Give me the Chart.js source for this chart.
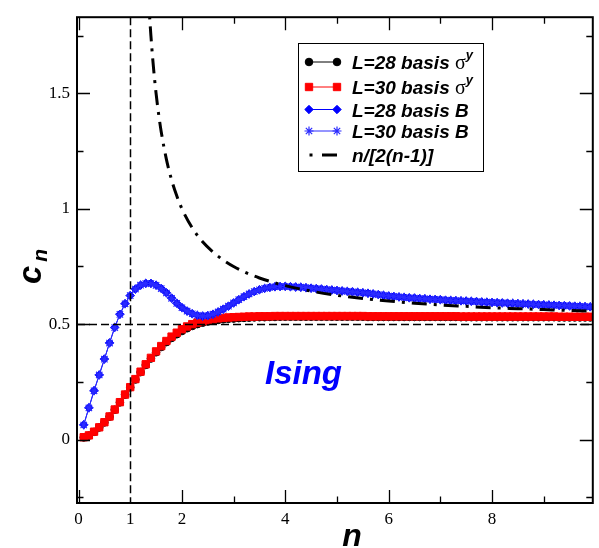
<!DOCTYPE html>
<html><head><meta charset="utf-8">
<script src="https://cdn.jsdelivr.net/npm/chart.js@4.4.0/dist/chart.umd.min.js"></script>
<style>html,body{margin:0;padding:0;background:#fff;}#wrap{width:599px;height:548px;}</style>
</head><body><div id="wrap"><canvas id="c" width="599" height="548"></canvas></div>
<script>
// ---------- data ----------
const nGrid = [0.1,0.2,0.3,0.4,0.5,0.6,0.7,0.8,0.9,1.0,
 1.1,1.2,1.3,1.4,1.5,1.6,1.7,1.8,1.9,2.0,
 2.1,2.2,2.3,2.4,2.5,2.6,2.7,2.8,2.9,3.0,
 3.1,3.2,3.3,3.4,3.5,3.6,3.7,3.8,3.9,4.0,
 4.1,4.2,4.3,4.4,4.5,4.6,4.7,4.8,4.9,5.0,
 5.1,5.2,5.3,5.4,5.5,5.6,5.7,5.8,5.9,6.0,
 6.1,6.2,6.3,6.4,6.5,6.6,6.7,6.8,6.9,7.0,
 7.1,7.2,7.3,7.4,7.5,7.6,7.7,7.8,7.9,8.0,
 8.1,8.2,8.3,8.4,8.5,8.6,8.7,8.8,8.9,9.0,
 9.1,9.2,9.3,9.4,9.5,9.6,9.7,9.8,9.9];

const cnL28SigmaY = [0.009,0.017,0.033,0.052,0.074,0.099,0.129,0.161,0.194,0.226,
 0.260,0.292,0.323,0.351,0.378,0.401,0.422,0.440,0.456,0.470,
 0.482,0.492,0.500,0.506,0.511,0.515,0.518,0.521,0.523,0.524,
 0.526,0.527,0.528,0.529,0.530,0.530,0.531,0.531,0.532,0.532,
 0.532,0.532,0.532,0.532,0.532,0.532,0.532,0.532,0.532,0.532,
 0.532,0.532,0.532,0.532,0.532,0.531,0.531,0.531,0.531,0.531,
 0.531,0.531,0.531,0.531,0.531,0.531,0.531,0.531,0.531,0.531,
 0.531,0.531,0.531,0.530,0.530,0.530,0.530,0.530,0.530,0.530,
 0.530,0.530,0.530,0.530,0.530,0.530,0.530,0.530,0.530,0.530,
 0.530,0.530,0.529,0.529,0.529,0.529,0.529,0.529,0.529];

const cnL30SigmaY = [0.010,0.018,0.034,0.053,0.075,0.100,0.130,0.162,0.195,0.227,
 0.262,0.294,0.326,0.354,0.382,0.405,0.427,0.446,0.463,0.478,
 0.490,0.500,0.507,0.513,0.518,0.522,0.525,0.527,0.529,0.530,
 0.531,0.532,0.533,0.533,0.534,0.534,0.534,0.535,0.535,0.535,
 0.535,0.535,0.535,0.535,0.535,0.535,0.535,0.535,0.535,0.535,
 0.535,0.535,0.535,0.535,0.535,0.534,0.534,0.534,0.534,0.534,
 0.534,0.534,0.534,0.534,0.534,0.534,0.534,0.534,0.534,0.534,
 0.534,0.534,0.534,0.533,0.533,0.533,0.533,0.533,0.533,0.533,
 0.533,0.533,0.533,0.533,0.533,0.533,0.533,0.533,0.533,0.533,
 0.533,0.533,0.532,0.532,0.532,0.532,0.532,0.532,0.532];

const cnL28B = [0.064,0.138,0.212,0.280,0.349,0.419,0.486,0.543,0.589,0.624,
 0.652,0.669,0.677,0.677,0.669,0.655,0.636,0.613,0.591,0.572,
 0.557,0.545,0.538,0.535,0.537,0.543,0.553,0.565,0.578,0.592,
 0.606,0.619,0.631,0.641,0.649,0.655,0.659,0.662,0.663,0.664,
 0.662,0.661,0.660,0.658,0.656,0.654,0.652,0.650,0.648,0.646,
 0.644,0.642,0.640,0.638,0.636,0.634,0.631,0.628,0.625,0.622,
 0.620,0.618,0.616,0.614,0.613,0.611,0.610,0.608,0.607,0.606,
 0.604,0.603,0.602,0.601,0.600,0.599,0.598,0.596,0.595,0.594,
 0.593,0.592,0.591,0.590,0.589,0.588,0.587,0.586,0.585,0.584,
 0.583,0.582,0.581,0.580,0.579,0.578,0.577,0.576,0.575];

const cnL30B = [0.063,0.137,0.211,0.280,0.348,0.418,0.485,0.542,0.588,0.624,
 0.652,0.669,0.676,0.676,0.668,0.654,0.635,0.612,0.590,0.571,
 0.556,0.545,0.538,0.535,0.537,0.543,0.553,0.565,0.578,0.592,
 0.606,0.619,0.631,0.641,0.649,0.655,0.659,0.662,0.663,0.663,
 0.662,0.661,0.660,0.658,0.656,0.654,0.652,0.650,0.648,0.646,
 0.644,0.642,0.640,0.638,0.636,0.634,0.631,0.628,0.625,0.622,
 0.620,0.618,0.616,0.614,0.613,0.611,0.610,0.608,0.607,0.606,
 0.604,0.603,0.602,0.601,0.600,0.599,0.598,0.596,0.595,0.594,
 0.593,0.592,0.591,0.590,0.589,0.588,0.587,0.586,0.585,0.584,
 0.583,0.582,0.581,0.580,0.579,0.578,0.577,0.576,0.575];

const nAsymptote = [1.35,1.37,1.4,1.45,1.5,1.55,1.6,1.7,1.8,1.9,2.0,2.2,2.4,2.6,2.8,3.0,
 3.25,3.5,3.75,4.0,4.5,5.0,5.5,6.0,6.5,7.0,7.5,8.0,8.5,9.0,9.5,10.0];
const cnAsymptote = [1.929,1.851,1.750,1.611,1.500,1.409,1.333,1.214,1.125,1.056,1.000,0.917,0.857,0.813,0.778,0.750,
 0.722,0.700,0.682,0.667,0.643,0.625,0.611,0.600,0.591,0.583,0.577,0.571,0.567,0.563,0.559,0.556];

const refLineN = 1;      // vertical dashed line n = 1
const refLineC = 0.5;    // horizontal dashed line c_n = 1/2

const xTickValues = [0,1,2,3,4,5,6,7,8,9];
const xTickLabels = ['0','1','2','','4','','6','','8',''];
const xMajorTicks = [0,2,4,6,8];
const yTickValues = [-0.25,0,0.25,0.5,0.75,1,1.25,1.5,1.75];
const yTickLabels = ['','0','','0.5','','1','','1.5',''];
const yMajorTicks = [0,0.5,1,1.5];

const legendLabels = ['L=28 basis ','L=30 basis ','L=28 basis B','L=30 basis B','n/[2(n-1)]'];
const legendSymbols = ['σ','σ','','',''];
const legendSupers = ['y','y','','',''];
const annotationText = 'Ising';
const xTitle = 'n';
const yTitleMain = 'c';
const yTitleSub = 'n';

const X_MIN = -0.03, X_MAX = 9.95, Y_MIN = -0.275, Y_MAX = 1.83;

// ---------- build ----------
const pts = (xs, ys) => xs.map((x, i) => ({x: x, y: ys[i]}));

const datasets = [
  {label: legendLabels[0], data: pts(nGrid, cnL28SigmaY), borderColor:'#000', backgroundColor:'#000',
   borderWidth:1, pointStyle:'circle', pointRadius:3.8, pointBorderWidth:1, order:5},
  {label: legendLabels[1], data: pts(nGrid, cnL30SigmaY), borderColor:'#ff0000', backgroundColor:'#ff0000',
   borderWidth:1, pointStyle:'rect', pointRadius:5.2, pointBorderWidth:1, order:4},
  {label: legendLabels[2], data: pts(nGrid, cnL28B), borderColor:'#0000ff', backgroundColor:'#0000ff',
   borderWidth:1, pointStyle:'rectRot', pointRadius:4.2, pointBorderWidth:1, order:3},
  {label: legendLabels[3], data: pts(nGrid, cnL30B), borderColor:'#2b2bff', backgroundColor:'#2b2bff',
   borderWidth:1, pointStyle:'star', pointRadius:4.5, pointBorderWidth:1.2, order:2},
  {label: legendLabels[4], data: pts(nAsymptote, cnAsymptote), borderColor:'#000', backgroundColor:'#000',
   borderWidth:3, borderDash:[15,7,3,7], pointRadius:0, cubicInterpolationMode:'monotone', order:1}
];

function lookupLabel(values, labels) {
  return function(v) {
    const i = values.findIndex(t => Math.abs(t - v) < 1e-9);
    return i >= 0 ? labels[i] : '';
  };
}

const decor = {
  id: 'decor',
  afterDatasetsDraw(chart) {
    const ctx = chart.ctx, a = chart.chartArea;
    const xs = chart.scales.x, ys = chart.scales.y;
    ctx.save();
    ctx.beginPath(); ctx.rect(a.left, a.top, a.right - a.left, a.bottom - a.top); ctx.clip();
    ctx.strokeStyle = '#000'; ctx.lineWidth = 1.5; ctx.setLineDash([8,4]);
    const px = Math.round(xs.getPixelForValue(refLineN)) + 0.5;
    ctx.beginPath(); ctx.moveTo(px, a.top); ctx.lineTo(px, a.bottom); ctx.stroke();
    const py = Math.round(ys.getPixelForValue(refLineC)) + 0.5;
    ctx.beginPath(); ctx.moveTo(a.left, py); ctx.lineTo(a.right, py); ctx.stroke();
    ctx.restore();
  },
  afterDraw(chart) {
    const ctx = chart.ctx, a = chart.chartArea;
    const xs = chart.scales.x, ys = chart.scales.y;
    ctx.save();
    // frame
    ctx.strokeStyle = '#000'; ctx.lineWidth = 2; ctx.setLineDash([]);
    ctx.strokeRect(a.left, a.top, a.right - a.left, a.bottom - a.top);
    // inward ticks
    ctx.lineWidth = 1.3;
    xTickValues.forEach(v => {
      if (v === refLineN) return;
      const L = xMajorTicks.includes(v) ? 13 : 6.5;
      const p = Math.round(xs.getPixelForValue(v)) + 0.5;
      ctx.beginPath(); ctx.moveTo(p, a.bottom); ctx.lineTo(p, a.bottom - L);
      ctx.moveTo(p, a.top); ctx.lineTo(p, a.top + L); ctx.stroke();
    });
    yTickValues.forEach(v => {
      const L = yMajorTicks.includes(v) ? 13 : 6.5;
      const p = Math.round(ys.getPixelForValue(v)) + 0.5;
      ctx.beginPath(); ctx.moveTo(a.left, p); ctx.lineTo(a.left + L, p);
      ctx.moveTo(a.right, p); ctx.lineTo(a.right - L, p); ctx.stroke();
    });
    // Ising
    ctx.fillStyle = '#0000ff';
    ctx.font = 'bold italic 33px "Liberation Sans", Arial, sans-serif';
    ctx.textBaseline = 'alphabetic'; ctx.textAlign = 'left';
    ctx.fillText(annotationText, 265, 384);
    // x title
    ctx.fillStyle = '#000';
    ctx.font = 'bold italic 32px "Liberation Sans", Arial, sans-serif';
    ctx.textAlign = 'center';
    ctx.fillText(xTitle, 352, 546);
    // y title (rotated)
    ctx.save();
    ctx.translate(41, 284); ctx.rotate(-Math.PI / 2);
    ctx.textAlign = 'left';
    ctx.font = 'bold italic 33px "Liberation Sans", Arial, sans-serif';
    ctx.fillText(yTitleMain, 0, 0);
    const cw = ctx.measureText(yTitleMain).width;
    ctx.font = 'bold italic 21px "Liberation Sans", Arial, sans-serif';
    ctx.fillText(yTitleSub, cw + 4, 6);
    ctx.restore();
    // legend
    const bx = 298, by = 43, bw = 185, bh = 128;
    ctx.fillStyle = '#fff'; ctx.fillRect(bx, by, bw, bh);
    ctx.strokeStyle = '#000'; ctx.lineWidth = 1;
    ctx.strokeRect(bx + 0.5, by + 0.5, bw, bh);
    const rowY = [62, 87, 109.5, 131, 155];
    chart.data.datasets.forEach((ds, i) => {
      const y = rowY[i];
      const x1 = 309, x2 = 337;
      ctx.save();
      ctx.strokeStyle = ds.borderColor; ctx.fillStyle = ds.backgroundColor;
      if (i === 4) {
        ctx.lineWidth = 3;
        ctx.beginPath(); ctx.moveTo(309.5, y); ctx.lineTo(312.5, y);
        ctx.moveTo(322, y); ctx.lineTo(337, y); ctx.stroke();
      } else {
        ctx.lineWidth = ds.borderWidth;
        ctx.beginPath(); ctx.moveTo(x1, y); ctx.lineTo(x2, y); ctx.stroke();
        const opt = {pointStyle: ds.pointStyle, radius: ds.pointRadius, borderWidth: ds.pointBorderWidth, rotation: 0};
        ctx.lineWidth = ds.pointBorderWidth;
        Chart.helpers.drawPoint(ctx, opt, x1, y);
        Chart.helpers.drawPoint(ctx, opt, x2, y);
      }
      ctx.restore();
      ctx.fillStyle = '#000'; ctx.textAlign = 'left'; ctx.textBaseline = 'alphabetic';
      ctx.font = 'bold italic 19px "Liberation Sans", Arial, sans-serif';
      const ty = y + 7;
      ctx.fillText(legendLabels[i], 352, ty);
      let tx = 352 + ctx.measureText(legendLabels[i]).width;
      if (legendSymbols[i]) {
        ctx.font = '20px "Liberation Serif", serif';
        ctx.fillText(legendSymbols[i], tx, ty);
        tx += ctx.measureText(legendSymbols[i]).width;
        ctx.font = 'bold italic 13px "Liberation Sans", Arial, sans-serif';
        ctx.fillText(legendSupers[i], tx, ty - 10);
      }
    });
    ctx.restore();
  }
};

new Chart(document.getElementById('c'), {
  type: 'line',
  data: { datasets: datasets },
  options: {
    responsive: false, animation: false, devicePixelRatio: 1, events: [],
    layout: { padding: { top: 10, right: 3, left: 0, bottom: 0 } },
    plugins: { legend: { display: false }, tooltip: { enabled: false } },
    elements: { line: { tension: 0 } },
    scales: {
      x: {
        type: 'linear', min: X_MIN, max: X_MAX,
        grid: { display: false, drawTicks: false }, border: { display: false },
        afterBuildTicks: s => { s.ticks = xTickValues.map(v => ({ value: v })); },
        afterFit: s => { s.height = 45; },
        ticks: { autoSkip: false, maxRotation: 0, padding: 6, color: '#000',
          font: { family: '"Liberation Serif", "Times New Roman", serif', size: 17 },
          callback: lookupLabel(xTickValues, xTickLabels) }
      },
      y: {
        type: 'linear', min: Y_MIN, max: Y_MAX,
        grid: { display: false, drawTicks: false }, border: { display: false },
        afterBuildTicks: s => { s.ticks = yTickValues.map(v => ({ value: v })); },
        afterFit: s => { s.width = 77; },
        ticks: { autoSkip: false, padding: 7, color: '#000',
          font: { family: '"Liberation Serif", "Times New Roman", serif', size: 17 },
          callback: lookupLabel(yTickValues, yTickLabels) }
      }
    }
  },
  plugins: [decor]
});
</script>
</body></html>
